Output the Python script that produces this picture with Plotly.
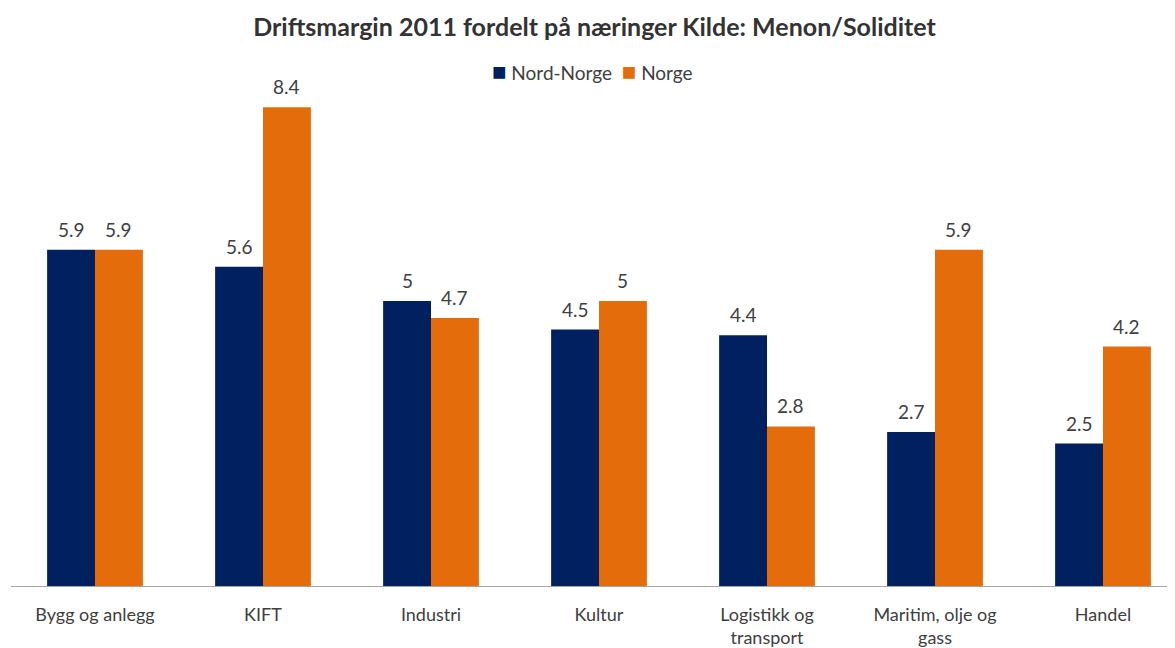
import plotly.graph_objects as go

categories = ["Bygg og anlegg", "KIFT", "Industri", "Kultur", "Logistikk og<br>transport", "Maritim, olje og<br>gass", "Handel"]
nord_norge = [5.9, 5.6, 5.0, 4.5, 4.4, 2.7, 2.5]
norge = [5.9, 8.4, 4.7, 5.0, 2.8, 5.9, 4.2]
series_names = ["Nord-Norge", "Norge"]
series_colors = ["#002060", "#E46C0A"]

font_family = "Lato, Open Sans, sans-serif"
txt_color = "#404040"

W, H = 1167, 640
L, R, T, B = 3, 0, 65, 60
cat_px = 168.0
bargap = 0.43
plot_w = W - L - R
x_hi = -0.5 + plot_w / cat_px
bar_px = cat_px * (1 - bargap) / 2

fig = go.Figure()
for name, vals, col in zip(series_names, [nord_norge, norge], series_colors):
    fig.add_trace(go.Bar(name=name, x=categories, y=vals, marker_color=col,
                         marker_line_width=0, showlegend=False))

annotations = []
for si, vals in enumerate([nord_norge, norge]):
    shift = (si - 0.5) * bar_px
    for c, v in zip(categories, vals):
        annotations.append(dict(x=c, y=v, xref="x", yref="y", text=f"{v:g}",
                                showarrow=False, xanchor="center", yanchor="bottom",
                                xshift=shift, yshift=7,
                                font=dict(size=19, color=txt_color)))

legend_text = (f"<span style='color:{series_colors[0]};font-size:24px'>■</span> {series_names[0]}  "
               f"<span style='color:{series_colors[1]};font-size:24px'>■</span> {series_names[1]}")
annotations.append(dict(x=(584 - L) / plot_w, y=1.0, xref="paper", yref="paper",
                        text=legend_text, showarrow=False, xanchor="center", yanchor="middle",
                        yshift=3, font=dict(size=19, color=txt_color)))

fig.update_layout(
    width=W, height=H,
    barmode="group", bargap=bargap, bargroupgap=0,
    paper_bgcolor="white", plot_bgcolor="white",
    font=dict(family=font_family, color=txt_color, size=18),
    title=dict(text="<b>Driftsmargin 2011 fordelt på næringer Kilde: Menon/Soliditet</b>",
               xref="container", x=586.5 / W, xanchor="center",
               yref="container", y=1 - 19 / H, yanchor="middle",
               font=dict(size=25, color="#333333")),
    showlegend=False,
    annotations=annotations,
    margin=dict(l=L, r=R, t=T, b=B),
    xaxis=dict(showline=True, linecolor="#A6A6A6", linewidth=1, ticks="",
               range=[-0.5, x_hi], ticklabelstandoff=12,
               tickfont=dict(size=18, color=txt_color)),
    yaxis=dict(range=[0, 9], visible=False, showgrid=False),
)

fig.write_html("out.html")
